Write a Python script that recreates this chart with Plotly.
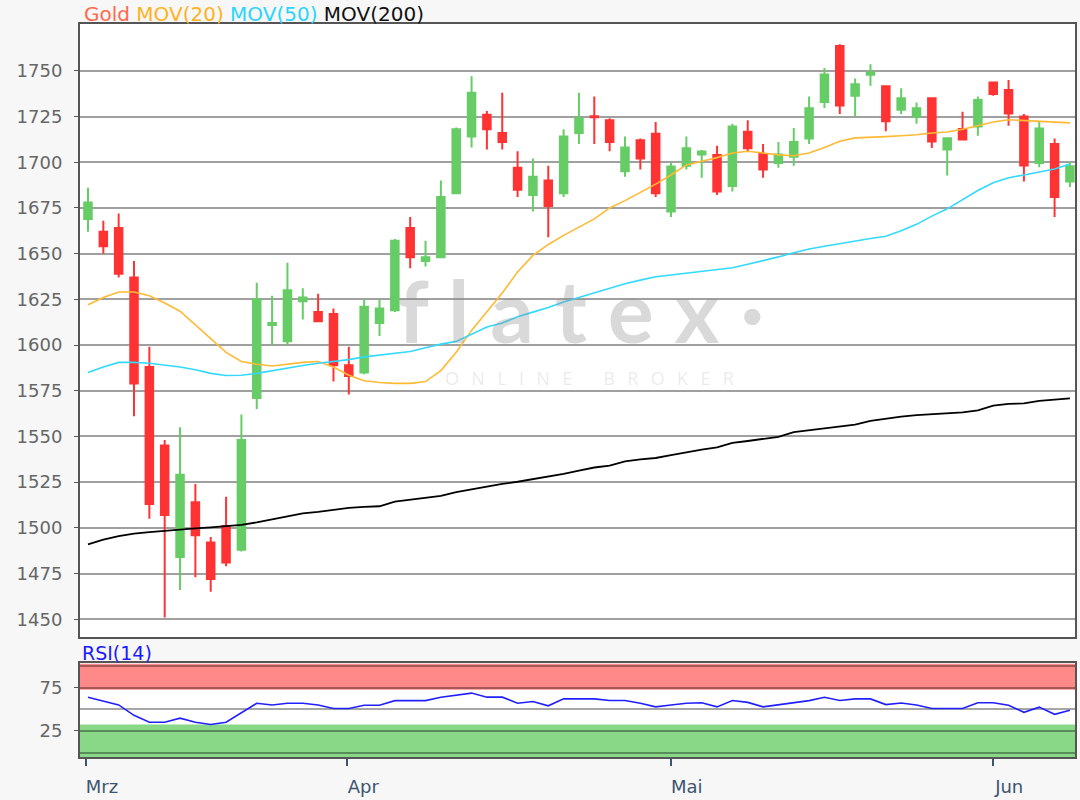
import plotly.graph_objects as go

# ---- data ----
opens = [1669, 1662, 1664, 1637, 1588, 1545, 1484, 1514, 1492, 1501,
         1488, 1571, 1611, 1602, 1624, 1618, 1617, 1589, 1585, 1612,
         1619, 1664, 1646, 1648, 1683, 1714, 1726, 1716, 1697, 1682,
         1690, 1683, 1716, 1725.2, 1723, 1695, 1712, 1715.5, 1673, 1698,
         1704.2, 1704, 1687, 1716.7, 1704.5, 1699.6, 1703, 1713, 1733, 1763.6,
         1736.4, 1747.8, 1741.5, 1728.7, 1725, 1735, 1707, 1718.2, 1719.6, 1743.6,
         1739.5, 1725, 1699.5, 1710, 1689.5]
highs = [1686, 1668, 1672, 1646, 1599, 1548, 1555, 1524, 1495, 1517,
         1562, 1634, 1627, 1645, 1631, 1628, 1620, 1599, 1625, 1625,
         1658, 1670, 1657, 1690, 1719, 1747, 1728, 1738, 1706, 1702,
         1698, 1718, 1738, 1736, 1724, 1714, 1713, 1722, 1699.5, 1714,
         1706.7, 1709, 1721, 1723, 1710, 1711, 1718.7, 1736, 1751.5, 1764.5,
         1745.8, 1753.6, 1741.5, 1740.5, 1732.7, 1735, 1713.1, 1727.6, 1736, 1743.6,
         1745, 1726.4, 1722.2, 1713, 1700]
lows = [1662, 1650, 1637, 1561, 1505, 1451, 1466, 1473, 1465, 1479,
        1487, 1565, 1600, 1600, 1614, 1613, 1580, 1573, 1584, 1605,
        1618, 1642, 1643, 1648, 1683, 1708, 1707, 1707, 1681, 1673,
        1659, 1681, 1710, 1710, 1706, 1692, 1696, 1681, 1670, 1696,
        1691.5, 1682, 1684, 1706, 1691.5, 1697, 1698, 1710, 1729.6, 1726.4,
        1725, 1741.8, 1717, 1726.4, 1721, 1707.8, 1692.7, 1712.4, 1714.5, 1736.4,
        1720, 1689.5, 1697.3, 1670, 1686.4]
closes = [1678, 1654, 1639, 1579, 1513, 1507, 1529, 1496, 1472, 1481,
          1548, 1625, 1612, 1630, 1626, 1613, 1589, 1583, 1621, 1620,
          1657, 1648, 1648, 1681, 1718, 1738, 1718, 1711, 1685, 1692,
          1676, 1714, 1724, 1724.6, 1711, 1708, 1702, 1683, 1697.6, 1707.6,
          1705.8, 1684, 1719.6, 1707.6, 1696, 1704.2, 1711, 1729.5, 1748, 1731,
          1742.7, 1749.1, 1722.4, 1735, 1729.5, 1711.3, 1713.1, 1712.4, 1734, 1737.3,
          1726.7, 1698.2, 1718.5, 1681, 1697.8]

mov20 = [1622, 1626, 1629, 1629, 1627, 1623, 1618.5, 1611, 1604, 1596,
         1591, 1589.5, 1588.5, 1589.5, 1590.5, 1591, 1588, 1583.5, 1580.5, 1579.5,
         1579, 1579, 1580, 1586, 1596, 1608, 1618, 1628.5, 1640, 1649,
         1655, 1660, 1664.5, 1669, 1675, 1679, 1683.5, 1688, 1693, 1698.5,
         1700.5, 1702.5, 1705, 1706, 1705, 1704, 1703.5, 1705, 1708, 1711.5,
         1713.3, 1713.5, 1714, 1714.5, 1715, 1716, 1716.5, 1718, 1720, 1722,
         1723.2, 1722.8, 1722.3, 1722, 1721.5]
mov50 = [1585, 1588, 1590.5, 1590.5, 1590, 1589, 1588, 1586.5, 1584.5, 1583.3,
         1583.5, 1584.5, 1586, 1587.5, 1588.8, 1590, 1591, 1592, 1593.5, 1594.5,
         1595.3, 1596.5, 1598.5, 1600.5, 1602, 1606, 1609.8, 1612, 1615.5, 1618,
         1620.5, 1623.5, 1626, 1628.6, 1631, 1633.5, 1635.5, 1637.3, 1638.3, 1639.2,
         1640.2, 1641.2, 1642.3, 1644.2, 1646, 1648.2, 1650.5, 1652.5, 1654, 1655.5,
         1657, 1658.3, 1659.5, 1662.5, 1666, 1670.5, 1674.5, 1679.5, 1684.5, 1688.8,
         1691.5, 1693, 1694.5, 1696.3, 1699]
mov200 = [1491, 1493.5, 1495.5, 1496.8, 1497.6, 1498.4, 1499, 1499.7, 1500.3, 1500.9,
          1501.6, 1503, 1504.6, 1506.3, 1507.9, 1508.7, 1509.8, 1510.9, 1511.5, 1511.8,
          1514.3, 1515.5, 1516.5, 1517.5, 1519.5, 1521, 1522.8, 1524, 1525.2, 1526.5,
          1528, 1529.5, 1531.3, 1533, 1534, 1536.3, 1537.5, 1538.2, 1539.8, 1541.5,
          1542.8, 1544, 1546.5, 1547.5, 1548.5, 1549.8, 1552.3, 1553.3, 1554.3, 1555.3,
          1556.5, 1558.5, 1559.8, 1560.8, 1561.7, 1562.3, 1562.6, 1563.2, 1564.3, 1566.8,
          1567.8, 1568.1, 1569.4, 1570, 1570.8]
rsi14 = [64, 59.5, 55, 43, 35, 35, 39.8, 35, 32.5, 35,
         46, 57, 55, 57, 57, 55, 51, 51, 54.6, 54.6,
         60, 60, 60, 64, 66, 68.7, 64, 64, 57, 59,
         54, 62, 62, 62, 60.2, 60.2, 57, 52.8, 55, 57,
         57.6, 52.8, 60.2, 58, 52.8, 55, 57, 60, 63.9, 60.2,
         62, 62, 55.4, 57.2, 55, 51, 51, 51, 57.6, 57.6,
         54.6, 46.5, 52.5, 44.2, 49]

month_ticks = [-0.13, 16.9, 37.98, 59.0]
month_labels = ["Mrz", "Apr", "Mai", "Jun"]
price_ticks = list(range(1450, 1751, 25))

idx = list(range(len(opens)))

FONT = "DejaVu Sans"
GREEN = "#66cc66"
RED = "#ff3333"

fig = go.Figure()
fig.add_trace(go.Candlestick(
    x=idx, open=opens, high=highs, low=lows, close=closes,
    increasing=dict(line=dict(color=GREEN, width=2), fillcolor=GREEN),
    decreasing=dict(line=dict(color=RED, width=2), fillcolor=RED),
    hoverinfo="skip", showlegend=False, xaxis="x", yaxis="y"))
fig.add_trace(go.Scatter(x=idx, y=mov20, mode="lines",
                         line=dict(color="#ffb933", width=1.6),
                         hoverinfo="skip", showlegend=False))
fig.add_trace(go.Scatter(x=idx, y=mov50, mode="lines",
                         line=dict(color="#33d9ff", width=1.6),
                         hoverinfo="skip", showlegend=False))
fig.add_trace(go.Scatter(x=idx, y=mov200, mode="lines",
                         line=dict(color="#000000", width=1.8),
                         hoverinfo="skip", showlegend=False))
fig.add_trace(go.Scatter(x=idx, y=rsi14, mode="lines",
                         line=dict(color="#2020ff", width=1.6),
                         hoverinfo="skip", showlegend=False,
                         xaxis="x2", yaxis="y2"))

XR = [-0.52, 64.33]
axis_line = dict(showline=True, mirror=True, linecolor="#555555", linewidth=2,
                 zeroline=False)

fig.update_layout(
    width=1080, height=800,
    margin=dict(l=80, r=3, t=24, b=42),
    paper_bgcolor="#f7f7f7", plot_bgcolor="#ffffff",
    font=dict(family=FONT, size=18, color="#666666"),
    showlegend=False,
    boxgap=0.3,
    xaxis=dict(domain=[0, 1], range=XR, anchor="y", showticklabels=False,
               showgrid=False, ticks="", rangeslider=dict(visible=False),
               **axis_line),
    yaxis=dict(domain=[0.1635, 1], range=[1440.2, 1775.6], anchor="x",
               tickvals=price_ticks, ticks="outside", ticklen=4,
               tickcolor="#555555", tickfont=dict(family=FONT, size=18, color="#666666"),
               ticklabelstandoff=8,
               showgrid=True, gridcolor="#a0a0a0", gridwidth=2, **axis_line),
    xaxis2=dict(domain=[0, 1], range=XR, anchor="y2", tickvals=month_ticks,
                ticktext=month_labels, ticks="outside", ticklen=7,
                tickcolor="#3d5570", tickwidth=1.5,
                tickfont=dict(family=FONT, size=18, color="#3d5570"),
                ticklabelshift=16, ticklabelstandoff=5,
                showgrid=False, **axis_line),
    yaxis2=dict(domain=[0, 0.1277], range=[-5.1, 103], anchor="x2",
                tickvals=[25, 75], ticks="outside", ticklen=4,
                tickcolor="#555555", tickfont=dict(family=FONT, size=18, color="#666666"),
                ticklabelstandoff=8,
                showgrid=True, gridcolor="rgba(0,0,0,0.35)", gridwidth=1.5,
                minor=dict(tickvals=[0, 50, 100], showgrid=True,
                           gridcolor="rgba(0,0,0,0.35)", gridwidth=1.5, ticklen=0),
                **axis_line),
)

# RSI zones
fig.add_shape(type="rect", xref="x2 domain", yref="y2", x0=0, x1=1, y0=72.5, y1=103,
              fillcolor="#ff8888", line=dict(width=0), layer="below")
fig.add_shape(type="rect", xref="x2 domain", yref="y2", x0=0, x1=1, y0=-5.1, y1=32.4,
              fillcolor="#88d888", line=dict(width=0), layer="below")

# header texts
fig.add_annotation(
    xref="paper", yref="paper", x=0.002, y=1.0136, xanchor="left", yanchor="middle",
    text=("<span style='color:#ff6a4d'>Gold</span> "
          "<span style='color:#ffb21f'>MOV(20)</span> "
          "<span style='color:#2ad4ff'>MOV(50)</span> "
          "<span style='color:#111111'>MOV(200)</span>"),
    showarrow=False, font=dict(family=FONT, size=20))
fig.add_annotation(
    xref="paper", yref="paper", x=0.0, y=0.1417, xanchor="left", yanchor="middle",
    text="RSI(14)", showarrow=False, font=dict(family=FONT, size=19, color="#1a1aff"))

# watermark
fig.add_annotation(
    xref="paper", yref="paper", x=(582 - 80) / 997, y=(758 - 310) / 734,
    xanchor="center", yanchor="middle", text="f l a t e x ·", showarrow=False,
    font=dict(family="Lato", size=86, color="rgba(140,140,140,0.33)", weight=700))
fig.add_annotation(
    xref="paper", yref="paper", x=(591 - 80) / 997, y=(758 - 378) / 734,
    xanchor="center", yanchor="middle",
    text="O  \u2009N  \u2009L  \u2009I  \u2009N  \u2009E      \u2009B  \u2009R  \u2009O  \u2009K  \u2009E  \u2009R",
    showarrow=False,
    font=dict(family="Open Sans", size=18, color="rgba(160,160,160,0.22)"))

fig.write_html(
    "out.html",
    config={"displayModeBar": False},
    post_script="document.body.style.margin='0';document.body.style.background='#f7f7f7';")
